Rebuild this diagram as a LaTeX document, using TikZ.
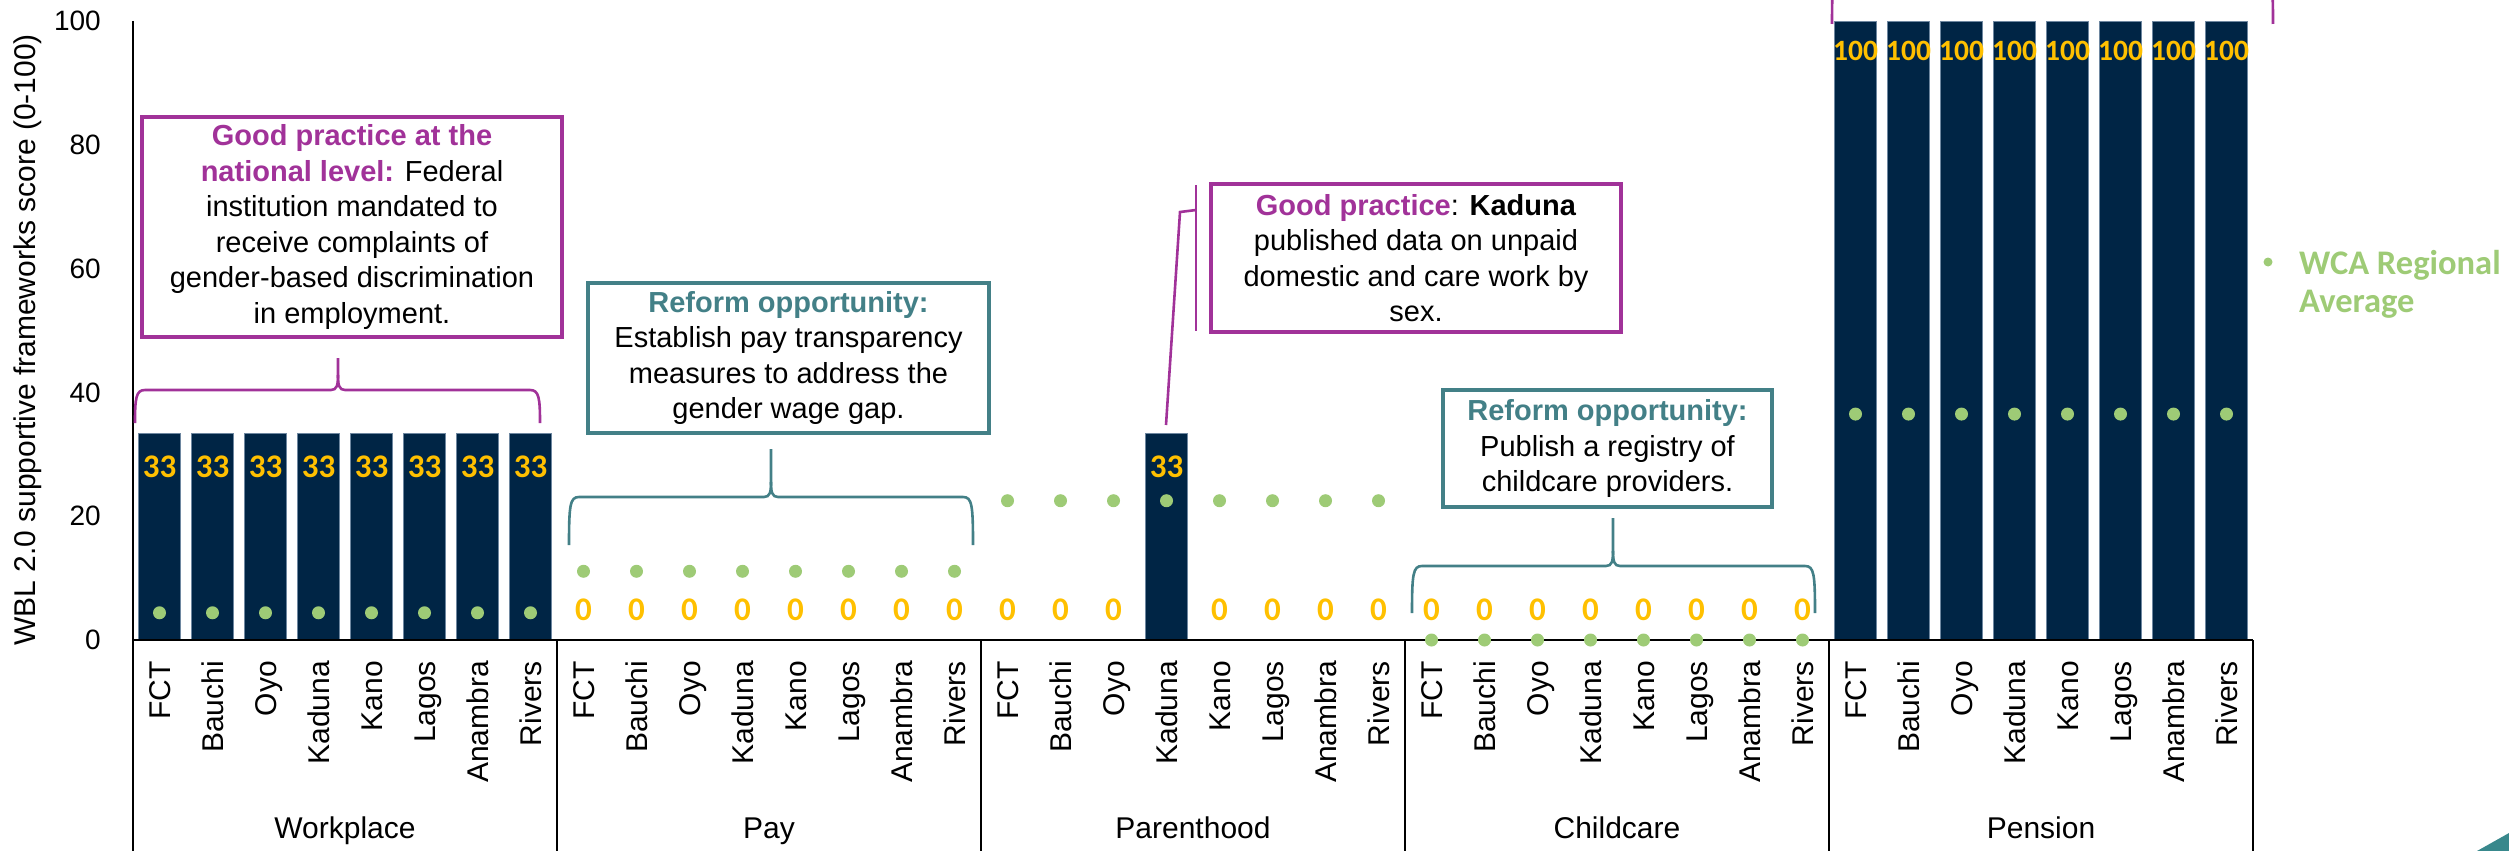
\documentclass[tikz,border=0pt]{standalone}
\usepackage{fontspec}
\setmainfont{Liberation Sans}
\newfontfamily\carlito{Carlito}
\definecolor{navy}{RGB}{0,37,69}
\definecolor{barline}{RGB}{110,135,160}
\definecolor{gp}{RGB}{161,50,153}
\definecolor{rf}{RGB}{67,128,135}
\definecolor{wca}{RGB}{158,203,118}
\definecolor{gold}{RGB}{255,192,0}
\definecolor{tri}{RGB}{56,136,140}
% #1 colour, #2 x left, #3 x right, #4 x tip, #5 y horizontal, #6 y ends, #7 y tip
\newcommand\mybrace[7]{%
  \draw[#1,bracestyle] (#2,#6) .. controls (#2,#5+8) and (#2+1,#5) .. (#2+10,#5) -- (#4-7,#5) .. controls (#4-1,#5) and (#4,#5-5) .. (#4,#5-15) -- (#4,#7);
  \draw[#1,bracestyle] (#4,#5-15) .. controls (#4,#5-5) and (#4+1,#5) .. (#4+7,#5) -- (#3-10,#5) .. controls (#3-1,#5) and (#3,#5+8) .. (#3,#6);
}
\begin{document}
\begin{tikzpicture}[x=1pt,y=-1pt,
  bar/.style={fill=navy,draw=barline,line width=0.7pt},
  avgdot/.style={circle,fill=wca,inner sep=0pt,minimum size=13pt},
  vlab/.style={text=gold,inner sep=0pt,font=\carlito\bfseries\fontsize{33pt}{36pt}\selectfont},
  hlab/.style={text=gold,inner sep=0pt,font=\carlito\bfseries\fontsize{29.5pt}{32pt}\selectfont},
  ticklab/.style={anchor=east,inner sep=0pt,font=\fontsize{28pt}{32pt}\selectfont},
  catlab/.style={rotate=90,anchor=base east,inner sep=0pt,font=\fontsize{30pt}{34pt}\selectfont},
  grplab/.style={anchor=base,inner sep=0pt,font=\fontsize{30pt}{34pt}\selectfont},
  axisline/.style={black,line width=2pt},
  divline/.style={black,line width=1.6pt},
  note/.style={draw,fill=white,line width=3.5pt,align=center,inner sep=0pt,font=\fontsize{29pt}{35.5pt}\selectfont},
  bracestyle/.style={line width=2.6pt},
  legtxt/.style={anchor=base west,inner sep=0pt,text=wca,font=\carlito\bfseries\fontsize{34.5pt}{38pt}\selectfont}
]
\useasboundingbox (0,0) rectangle (2509,851);
\clip (0,0) rectangle (2509,851);

% bars
\foreach \i in {0,...,7}{
  \pgfmathsetmacro\cx{133+53*(\i+0.5)}
  \draw[bar] (\cx-21.2,433.7) rectangle (\cx+21.2,640);
}
\draw[bar] (1166.5-21.2,433.7) rectangle (1166.5+21.2,640);
\foreach \i in {32,...,39}{
  \pgfmathsetmacro\cx{133+53*(\i+0.5)}
  \draw[bar] (\cx-21.2,21) rectangle (\cx+21.2,640);
}

% axes
\draw[axisline] (133,21) -- (133,851);
\draw[axisline] (133,640) -- (2253,640);
\foreach \x in {557,981,1405,1829,2253} \draw[divline] (\x,640) -- (\x,851);
\foreach \v in {0,20,...,100} \node[ticklab] (tick\v) at (101,{640-6.19*\v}) {\v};
\node[rotate=90,inner sep=0pt,font=\fontsize{30pt}{34pt}\selectfont] (ytitle) at (28,340) {WBL 2.0 supportive frameworks score (0-100)};

% category labels
\foreach \g/\gname in {0/Workplace,1/Pay,2/Parenthood,3/Childcare,4/Pension}{
  \foreach \s [count=\i from 0] in {FCT,Bauchi,Oyo,Kaduna,Kano,Lagos,Anambra,Rivers}{
    \pgfmathsetmacro\cx{133+53*(8*\g+\i+0.5)}
    \node[catlab] (cat-\g-\i) at (\cx+10.7,661) {\s};
  }
  \node[grplab] (grp-\g) at ({133+424*(\g+0.5)},838) {\gname};
}

% regional average dots
\foreach \g/\v in {0/4.4,1/11.1,2/22.5,3/0,4/36.5}{
  \foreach \i in {0,...,7}{
    \pgfmathsetmacro\cx{133+53*(8*\g+\i+0.5)}
    \node[avgdot] (avg-\g-\i) at (\cx,{640-6.19*\v}) {};
  }
}

% data labels
\foreach \i in {0,...,7}{
  \pgfmathsetmacro\cx{133+53*(\i+0.5)}
  \node[vlab] (val-0-\i) at (\cx,467) {33};
  \pgfmathsetmacro\cx{133+53*(8+\i+0.5)}
  \node[vlab] (val-1-\i) at (\cx,610) {0};
  \pgfmathsetmacro\cx{133+53*(24+\i+0.5)}
  \node[vlab] (val-3-\i) at (\cx,610) {0};
  \pgfmathsetmacro\cx{133+53*(32+\i+0.5)}
  \node[hlab] (val-4-\i) at (\cx,51) {100};
}
\foreach \i in {0,1,2,4,5,6,7}{
  \pgfmathsetmacro\cx{133+53*(16+\i+0.5)}
  \node[vlab] (val-2-\i) at (\cx,610) {0};
}
\node[vlab] (val-2-3) at (1166.5,467) {33};

% annotation boxes
\node[note,draw=gp,minimum width=420pt,minimum height=220pt] (gp1) at (352,227)
 {{\color{gp}\bfseries Good practice at the}\\
  {\color{gp}\bfseries national level:} Federal\\
  institution mandated to\\
  receive complaints of\\
  gender-based discrimination\\
  in employment.};
\node[note,draw=rf,minimum width=401pt,minimum height=150pt] (rf1) at (788.5,358)
 {{\color{rf}\bfseries Reform opportunity:}\\
  Establish pay transparency\\
  measures to address the\\
  gender wage gap.};
\node[note,draw=gp,minimum width=410pt,minimum height=148pt] (gp2) at (1416,258)
 {{\color{gp}\bfseries Good practice}: \textbf{Kaduna}\\
  published data on unpaid\\
  domestic and care work by\\
  sex.};
\node[note,draw=rf,minimum width=329pt,minimum height=117pt] (rf2) at (1607.5,448.5)
 {{\color{rf}\bfseries Reform opportunity:}\\
  Publish a registry of\\
  childcare providers.};

% braces
\mybrace{gp}{135}{540}{338}{390}{423}{358}
\mybrace{rf}{569}{973}{771}{497}{545}{449}
\mybrace{rf}{1412}{1815}{1613}{566}{613}{518}
\mybrace{gp}{1832}{2273}{2052}{-24}{24}{-72}

% Kaduna callout
\coordinate (acctop) at (1196,185);
\coordinate (accbot) at (1196,331);
\coordinate (accmid) at (1196,210);
\coordinate (accelb) at (1180,212);
\coordinate (kbar) at (1166,425);
\draw[gp,bracestyle] (acctop) -- (accbot);
\draw[gp,bracestyle] (accmid) -- (accelb) -- (kbar);

% legend
\node[circle,fill=wca,inner sep=0pt,minimum size=9pt] (legdot) at (2268,262) {};
\node[legtxt] (leg1) at (2299,274) {WCA Regional};
\node[legtxt] (leg2) at (2299,312) {Average};

% corner triangle
\fill[tri] (2477,851) -- (2509,833) -- (2509,851) -- cycle;
\end{tikzpicture}
\end{document}
